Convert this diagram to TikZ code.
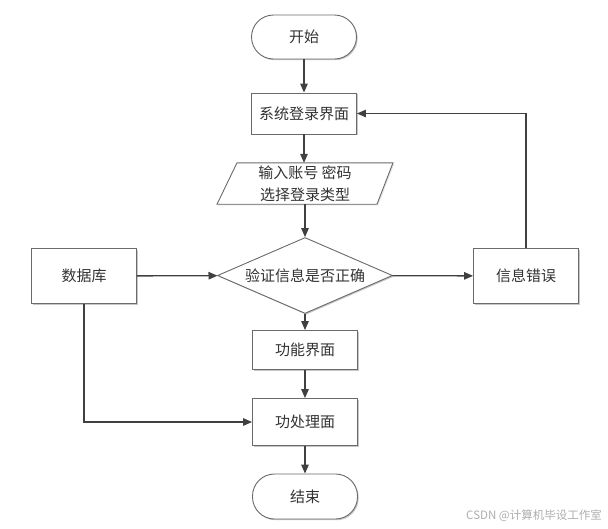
\documentclass[tikz,border=0pt]{standalone}
\usepackage{fontspec}
\setmainfont{Noto Sans CJK SC}
\usetikzlibrary{arrows.meta,shapes.geometric,shadows,calc}
\definecolor{lineclr}{HTML}{404040}
\definecolor{boxclr}{HTML}{6A6A6A}
\definecolor{txtclr}{HTML}{333333}
\tikzset{
  base/.style={draw=boxclr, line width=0.9pt, fill=white, text=txtclr, inner sep=0pt,
    font=\fontsize{15}{21}\selectfont,
    drop shadow={shadow xshift=1.2pt, shadow yshift=-1.2pt, fill=black!22, opacity=1}},
  procbox/.style={base, rectangle, minimum width=105pt},
  termbox/.style={base, rectangle, rounded corners=22pt, minimum width=105pt},
  decbox/.style={base, diamond, aspect=2.3, minimum width=175pt, minimum height=76pt},
  conn/.style={draw=lineclr, line width=1.3pt, -{Triangle[length=9pt,width=7.5pt]}},
}
\begin{document}
\begin{tikzpicture}[x=1pt,y=-1pt]
\useasboundingbox (0,0) rectangle (608,528);
\node[termbox, minimum height=44pt] (start) at (304,37) {开始};
\node[procbox, minimum height=41pt] (login) at (304,113.5) {系统登录界面};
\node[draw=none, fill=none, inner sep=0pt, minimum width=156pt, minimum height=41pt] (input) at (305,183.5) {};
\draw[draw=boxclr, line width=0.9pt, fill=white,
  drop shadow={shadow xshift=1.2pt, shadow yshift=-1.2pt, fill=black!22}]
  ([xshift=-68pt]input.north) -- ([xshift=88pt]input.north) --
  ([xshift=72pt]input.south) -- ([xshift=-88pt]input.south) -- cycle;
\node[inner sep=0pt, font=\fontsize{15}{22}\selectfont, text=txtclr, align=center] (inputtxt) at (305,184) {输入账号 密码\\选择登录类型};
\node[decbox] (check) at (305,275.5) {验证信息是否正确};
\node[procbox, minimum height=55pt] (db) at (84,276) {数据库};
\node[procbox, minimum height=55pt] (err) at (526,276) {信息错误};
\node[procbox, minimum height=39pt] (func) at (305,350) {功能界面};
\node[procbox, minimum height=47pt] (proc) at (305,422) {功处理面};
\node[termbox, minimum height=45pt] (end) at (305,496.5) {结束};
\coordinate (errup) at (526,113.5);
\coordinate (dbdown) at (84,422);
\draw[conn] (start) -- (login);
\draw[conn] (login.south) -- (login.south |- input.north);
\draw[conn] (input.south) -- (check.north);
\draw[conn] (db) -- (check);
\draw[conn] (check) -- (err);
\draw[conn] (err.north) -- (errup) -- (login.east);
\draw[conn] (check.south) -- (func.north);
\draw[conn] (func) -- (proc);
\draw[conn] (db.south) -- (dbdown) -- (proc.west);
\draw[conn] (proc) -- (end);
\node[anchor=east, inner sep=0pt, text=black!32, font=\fontsize{11.5}{13}\selectfont] (mark) at (602,516) {CSDN @计算机毕设工作室};
\end{tikzpicture}
\end{document}
